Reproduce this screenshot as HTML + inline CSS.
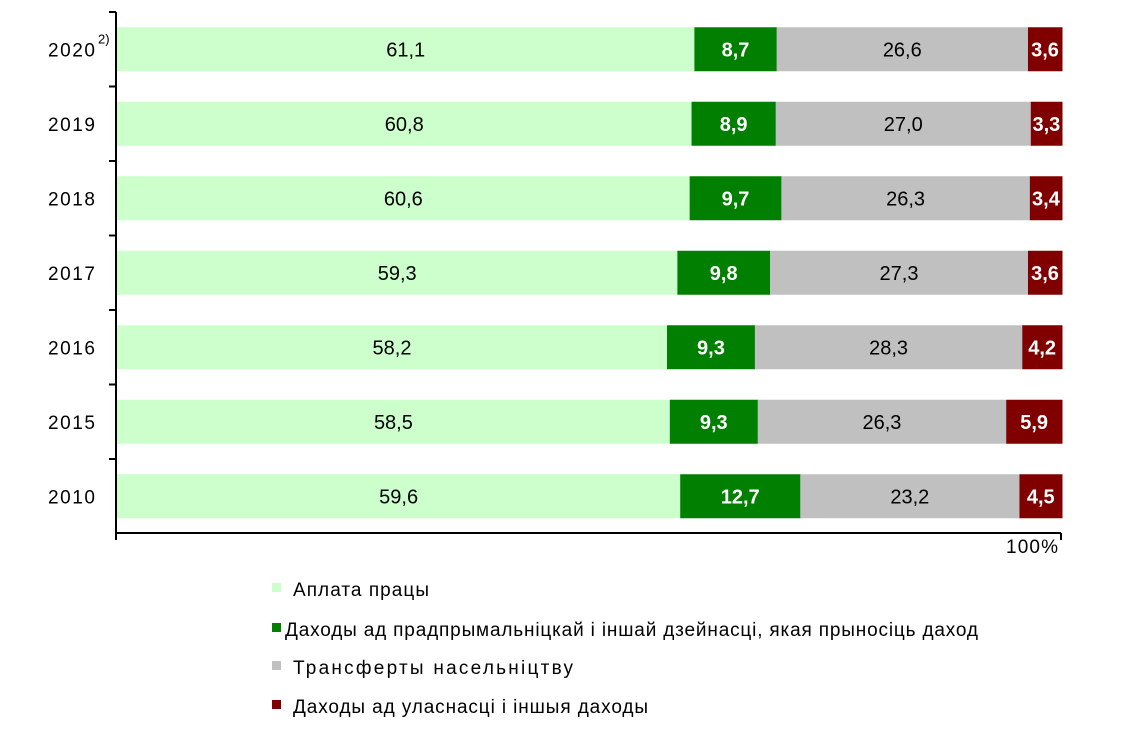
<!DOCTYPE html>
<html><head><meta charset="utf-8"><style>
body{margin:0;background:#fff;width:1145px;height:744px;overflow:hidden;font-family:"Liberation Sans",sans-serif}
</style></head><body>
<svg width="1145" height="744" xmlns="http://www.w3.org/2000/svg" font-family="Liberation Sans, sans-serif">
<g id="bars"></g>
<line x1="116" y1="12" x2="116" y2="540" stroke="#000" stroke-width="2"/>
<g stroke="#000" stroke-width="2">
<line x1="109" y1="12" x2="116" y2="12"/><line x1="109" y1="86.5" x2="116" y2="86.5"/><line x1="109" y1="161" x2="116" y2="161"/><line x1="109" y1="235.5" x2="116" y2="235.5"/><line x1="109" y1="310" x2="116" y2="310"/><line x1="109" y1="384.5" x2="116" y2="384.5"/><line x1="109" y1="459" x2="116" y2="459"/>
<line x1="116" y1="533" x2="1061" y2="533"/><line x1="1061" y1="533" x2="1061" y2="540"/>
</g>
<text x="1006" y="553" font-size="19" textLength="52">100%</text>
<g font-size="19">
<rect x="272" y="583" width="9" height="9" fill="#CCFFCC"/><text x="293" y="596" textLength="136">Аплата працы</text>
<rect x="272" y="623" width="9" height="9" fill="#007F00"/><text x="285" y="636" textLength="693">Даходы ад прадпрымальніцкай і іншай дзейнасці, якая прыносіць даход</text>
<rect x="272" y="661" width="9" height="9" fill="#C0C0C0"/><text x="293" y="674" textLength="280">Трансферты насельніцтву</text>
<rect x="272" y="700" width="9" height="9" fill="#800000"/><text x="293" y="713" textLength="355">Даходы ад уласнасці і іншыя даходы</text>
</g>
</svg>
<script>
var d=[["2020",[61.1,8.7,26.6,3.6]],["2019",[60.8,8.9,27.0,3.3]],["2018",[60.6,9.7,26.3,3.4]],["2017",[59.3,9.8,27.3,3.6]],["2016",[58.2,9.3,28.3,4.2]],["2015",[58.5,9.3,26.3,5.9]],["2010",[59.6,12.7,23.2,4.5]]];
var c=["#CCFFCC","#007F00","#C0C0C0","#800000"],tc=["#000","#fff","#000","#fff"],fw=["normal","bold","normal","bold"];
var s="";
d.forEach(function(r,i){var cy=49.25+i*74.5,x=117,W=945,sum=r[1].reduce(function(a,b){return a+b},0);
s+='<text x="48" y="'+(cy+7)+'" font-size="19" textLength="47">'+r[0]+'</text>';
if(i==0)s+='<text x="98" y="'+(cy-6)+'" font-size="13">2)</text>';
r[1].forEach(function(v,j){var w=v/sum*W;s+='<rect x="'+x+'" y="'+(cy-22)+'" width="'+(w+0.5)+'" height="44" fill="'+c[j]+'"/>';
s+='<text x="'+(x+w/2)+'" y="'+(cy+7)+'" font-size="20" text-anchor="middle" fill="'+tc[j]+'" font-weight="'+fw[j]+'">'+v.toFixed(1).replace(".",",")+'</text>';x+=w;});});
document.getElementById("bars").innerHTML=s;
</script>
</body></html>
